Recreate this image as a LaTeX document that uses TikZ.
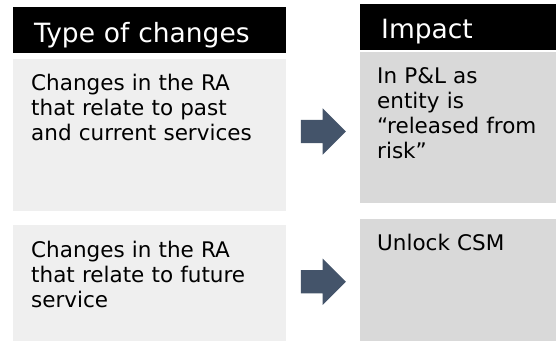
\documentclass[tikz,border=0pt]{standalone}
\usepackage{fontspec}
\setmainfont{DejaVu Sans}
\usetikzlibrary{shapes.arrows}
\usetikzlibrary{calc}

\definecolor{leftgrey}{HTML}{EFEFEF}
\definecolor{rightgrey}{HTML}{D9D9D9}
\definecolor{arrowblue}{HTML}{44546A}

\begin{document}
\begin{tikzpicture}[x=1pt, y=-1pt,
	headbox/.style={fill=black, text=white, anchor=north west, inner ysep=0pt, inner xsep=21pt, align=left, font=\fontsize{26.5}{30}\selectfont},
	bodybox/.style={anchor=north west, inner ysep=0pt, align=left, font=\fontsize{21.5}{25}\selectfont},
	blockarrow/.style={single arrow, fill=arrowblue, anchor=tail, inner xsep=0pt, inner ysep=11.5pt, minimum height=45pt, single arrow head extend=11.5pt}]

	\useasboundingbox (0,0) rectangle (556,341);

	%column headings
	\node[headbox, text width=231pt, text height=35pt, text depth=11pt] (typehead) at (13,7) {Type of changes};
	\node[headbox, text width=154pt, text height=34pt, text depth=12pt] (impacthead) at (360,4) {Impact};

	%type of changes column
	\node[bodybox, fill=leftgrey, inner xsep=18pt, text width=237pt, text height=31pt, text depth=121pt] (pastbox) at (13,59)
		{Changes in the RA\\that relate to past\\and current services};
	\node[bodybox, fill=leftgrey, inner xsep=18pt, text width=237pt, text height=32pt, text depth=84pt] (futurebox) at (13,225)
		{Changes in the RA\\that relate to future\\service};

	%impact column
	\node[bodybox, fill=rightgrey, inner xsep=17pt, text width=162pt, text height=31pt, text depth=120pt] (pastimpact) at (360,52)
		{In P\&L as\\entity is\\“released from\\risk”};
	\node[bodybox, fill=rightgrey, inner xsep=17pt, text width=162pt, text height=31pt, text depth=91pt] (futureimpact) at (360,219)
		{Unlock CSM};

	%block arrows between the columns
	\node[blockarrow] (pastarrow) at ($(pastbox.east)!0.5!(pastimpact.west)+(-22.5,0)$) {};
	\node[blockarrow] (futurearrow) at ($(futurebox.east)!0.5!(futureimpact.west)+(-22.5,0)$) {};

\end{tikzpicture}
\end{document}
